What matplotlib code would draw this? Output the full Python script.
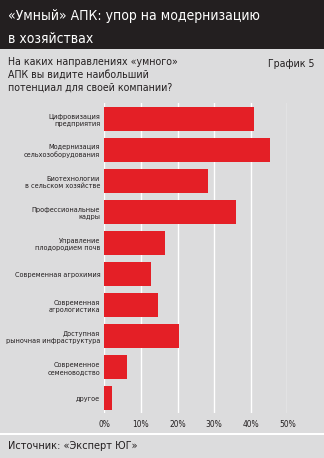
import matplotlib
matplotlib.use("Agg")
import matplotlib.pyplot as plt
from matplotlib.patches import Rectangle

# Данные графика
categories = [
    "Цифровизация\nпредприятия",
    "Модернизация\nсельхозоборудования",
    "Биотехнологии\nв сельском хозяйстве",
    "Профессиональные\nкадры",
    "Управление\nплодородием почв",
    "Современная агрохимия",
    "Современная\nагрологистика",
    "Доступная\nрыночная инфраструктура",
    "Современное\nсеменоводство",
    "другое",
]
values = [40.8, 45.4, 28.3, 35.9, 16.5, 12.7, 14.6, 20.4, 6.2, 2.1]
ticks = [0, 10, 20, 30, 40, 50]
tick_labels = ["0%", "10%", "20%", "30%", "40%", "50%"]

W, H = 324, 458
BG = "#dcdcdd"
DARK = "#231f20"
RED = "#e41f26"

plt.rcParams["font.family"] = ["DejaVu Sans"]
plt.rcParams["font.stretch"] = "condensed"

fig = plt.figure(figsize=(W / 100, H / 100), dpi=100)
fig.patch.set_facecolor(BG)


def fx(px):
    return px / W


def fy(py):
    return 1 - py / H


# фон: тёмная шапка, разделитель
fig.patches.append(Rectangle((0, fy(49)), 1, 49 / H, transform=fig.transFigure,
                             facecolor=DARK, edgecolor="none", zorder=0))
fig.patches.append(Rectangle((0, fy(435)), 1, 2 / H, transform=fig.transFigure,
                             facecolor="white", edgecolor="none", zorder=0))

fig.text(fx(8), fy(16), "«Умный» АПК: упор на модернизацию", color="white",
         fontsize=10, va="center", ha="left")
fig.text(fx(8), fy(39), "в хозяйствах", color="white",
         fontsize=10, va="center", ha="left")

fig.text(fx(8), fy(57), "На каких направлениях «умного»\nАПК вы видите наибольший\nпотенциал для своей компании?",
         color="#231f20", fontsize=7.6, va="top", ha="left", linespacing=1.32)
fig.text(fx(314), fy(64), "График 5", color="#231f20", fontsize=7.6,
         va="center", ha="right")

fig.text(fx(8), fy(446), "Источник: «Эксперт ЮГ»", color="#231f20",
         fontsize=7.8, va="center", ha="left")

ax = fig.add_axes([fx(104.3), fy(413), (287.3 - 104.3) / W, 310 / H])
ax.set_facecolor(BG)
ypos = list(range(len(categories)))
ax.barh(ypos, values, height=0.77, color=RED, zorder=3)
ax.set_xlim(0, 50)
ax.set_ylim(9.48, -0.52)
ax.set_xticks(ticks)
ax.set_xticklabels(tick_labels, fontsize=6)
ax.set_yticks(ypos)
ax.set_yticklabels(categories, fontsize=5.2, linespacing=1.25)
ax.tick_params(axis="both", length=0, colors="#231f20")
ax.tick_params(axis="y", pad=3)
ax.tick_params(axis="x", pad=5)
ax.grid(True, axis="x", color="white", linewidth=1, zorder=1)
for s in ax.spines.values():
    s.set_visible(False)

fig.savefig("out.png", dpi=100, facecolor=BG)
